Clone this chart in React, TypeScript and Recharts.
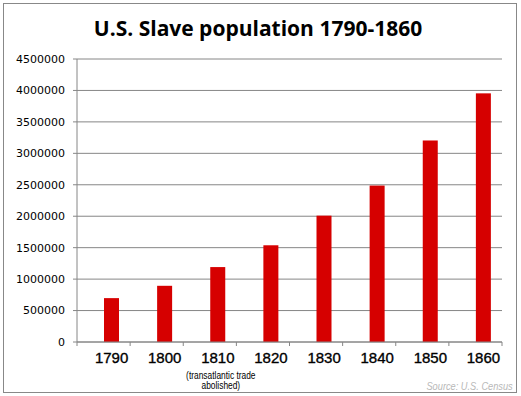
import React from 'react';
import { BarChart, Bar, XAxis, YAxis, CartesianGrid } from 'recharts';

const years = ['1790', '1800', '1810', '1820', '1830', '1840', '1850', '1860'];
const slaves = [697681, 893602, 1191362, 1538022, 2009043, 2487355, 3204313, 3953760];
const yTicks = [0, 500000, 1000000, 1500000, 2000000, 2500000, 3000000, 3500000, 4000000, 4500000];
const notes: Record<string, string[]> = { '1810': ['(transatlantic trade', 'abolished)'] };
const title = 'U.S. Slave population 1790-1860';
const source = 'Source: U.S. Census';

const data = years.map((y, i) => ({ year: y, value: slaves[i] }));

const SHIFT = 8;

const XTick = (props: any) => {
  const { x, payload, index, visibleTicksCount } = props;
  const bw = 425 / years.length;
  const lines = notes[payload.value] || [];
  return (
    <g>
      <line x1={x - bw / 2} x2={x - bw / 2} y1={342} y2={346} stroke="#868686" />
      {index === (visibleTicksCount ?? years.length) - 1 && (
        <line x1={x + bw / 2} x2={x + bw / 2} y1={342} y2={346} stroke="#868686" />
      )}
      <text
        x={x + SHIFT}
        y={363}
        textAnchor="middle"
        fontFamily="'Liberation Sans', Arial, sans-serif"
        fontSize={15}
        fill="#000"
        stroke="#000"
        strokeWidth={0.35}
      >
        {payload.value}
      </text>
      {lines.map((l, i) => (
        <text
          key={i}
          x={0}
          y={0}
          transform={`translate(${x + SHIFT + 3}, ${379 + i * 9.5}) scale(0.84, 1)`}
          textAnchor="middle"
          fontFamily="'Liberation Sans', sans-serif"
          fontSize={10}
          fill="#000"
        >
          {l}
        </text>
      ))}
    </g>
  );
};

const BarShape = (props: any) => {
  const { x, y, width, height, fill } = props;
  if (!height || height <= 0) return null;
  return <rect x={x + SHIFT} y={y} width={width} height={height} fill={fill} />;
};

export default function App() {
  return (
    <div style={{ position: 'absolute', left: 0, top: 0, width: 521, height: 396, background: '#fff' }}>
      <div
        style={{
          position: 'absolute',
          left: 3,
          top: 3,
          width: 512,
          height: 388,
          border: '1px solid #888',
        }}
      />
      <div
        style={{
          position: 'absolute',
          left: 0,
          top: 14,
          width: 516,
          textAlign: 'center',
          fontFamily: "'Open Sans', 'Liberation Sans', sans-serif",
          fontWeight: 700,
          fontSize: 21,
          lineHeight: '28px',
          color: '#000',
        }}
      >
        {title}
      </div>
      <div
        style={{
          position: 'absolute',
          right: 8,
          top: 380,
          fontFamily: "'Liberation Sans', sans-serif",
          fontStyle: 'italic',
          fontSize: 11,
          color: '#b8b8b8',
          lineHeight: '12px',
          transform: 'scaleX(0.84)',
          transformOrigin: 'right center',
          whiteSpace: 'nowrap',
        }}
      >
        {source}
      </div>
      <div style={{ position: 'absolute', left: 0, top: 0 }}>
        <BarChart
          width={521}
          height={396}
          data={data}
          margin={{ top: 59, right: 19, bottom: 0, left: 0 }}
          barSize={15}
        >
          <CartesianGrid vertical={false} stroke="#868686" strokeWidth={1} />
          <YAxis
            width={77}
            domain={[0, 4500000]}
            ticks={yTicks}
            interval={0}
            tickSize={4}
            tickMargin={8}
            axisLine={{ stroke: '#868686' }}
            tickLine={{ stroke: '#868686' }}
            tick={{ fontFamily: "'DejaVu Sans', Verdana, sans-serif", fontSize: 11, fill: '#000' }}
          />
          <XAxis
            dataKey="year"
            interval={0}
            axisLine={{ stroke: '#868686' }}
            tickLine={false}
            tick={<XTick />}
            height={54}
          />
          <Bar dataKey="value" fill="#d60000" isAnimationActive={false} shape={<BarShape />} />
        </BarChart>
      </div>
    </div>
  );
}
